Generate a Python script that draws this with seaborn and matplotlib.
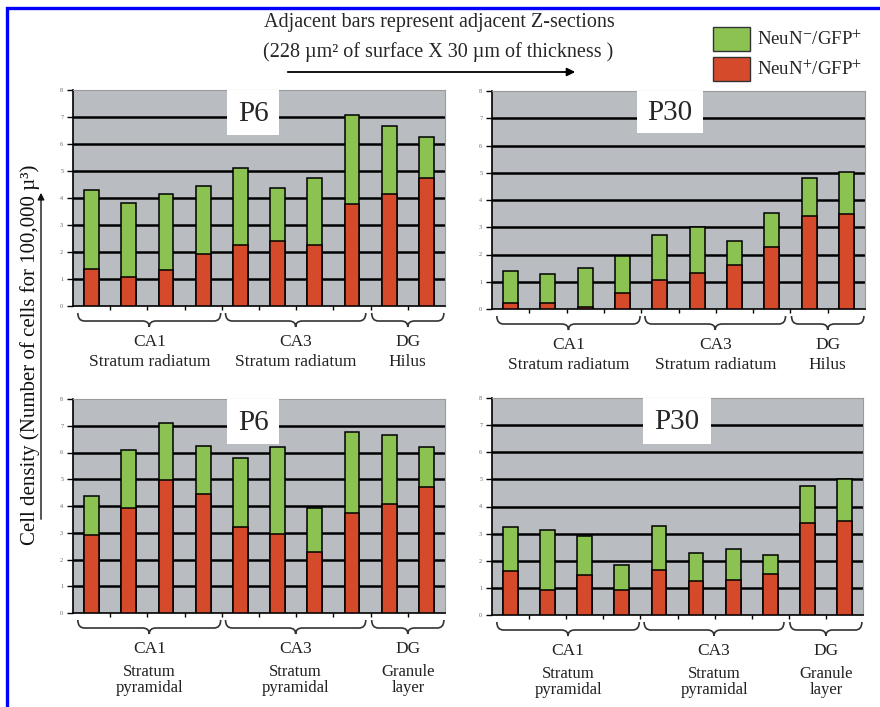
import matplotlib
matplotlib.use("Agg")
import matplotlib.pyplot as plt
import matplotlib.transforms as mtransforms
from matplotlib.patches import Rectangle, PathPatch, FancyArrowPatch
from matplotlib.path import Path
import pandas as pd
import seaborn as sns

# ---- data: cell density per Z-section (cells / 100,000 µ³) ----
sections = list(range(1, 11))
regions = ["CA1", "CA3", "DG"]
layers_radiatum = ["Stratum radiatum", "Stratum radiatum", "Hilus"]
layers_pyramidal = ["Stratum\npyramidal", "Stratum\npyramidal", "Granule\nlayer"]

# total height of each stacked bar (NeuN- + NeuN+) and its NeuN+ part
p6_rad_total = [4.28, 3.82, 4.13, 4.46, 5.12, 4.36, 4.75, 7.06, 6.68, 6.25]
p6_rad_pos = [1.37, 1.07, 1.32, 1.91, 2.26, 2.41, 2.26, 3.77, 4.13, 4.75]
p30_rad_total = [1.40, 1.28, 1.51, 1.95, 2.70, 3.01, 2.49, 3.51, 4.80, 5.02]
p30_rad_pos = [0.21, 0.23, 0.09, 0.57, 1.06, 1.33, 1.61, 2.28, 3.40, 3.50]
p6_pyr_total = [4.38, 6.08, 7.10, 6.23, 5.78, 6.19, 3.94, 6.77, 6.65, 6.20]
p6_pyr_pos = [2.91, 3.94, 4.98, 4.46, 3.21, 2.96, 2.28, 3.74, 4.08, 4.71]
p30_pyr_total = [3.23, 3.12, 2.93, 1.83, 3.29, 2.27, 2.42, 2.20, 4.77, 5.02]
p30_pyr_pos = [1.61, 0.93, 1.46, 0.93, 1.66, 1.24, 1.30, 1.52, 3.41, 3.48]

yticks = [0, 1, 2, 3, 4, 5, 6, 7, 8]

GREEN = "#8cc252"
RED = "#d64a2c"
PANEL_BG = "#b9bdc1"

sns.set_theme(style="ticks")
plt.rcParams["font.family"] = ["Liberation Serif", "DejaVu Serif"]
plt.rcParams["mathtext.fontset"] = "stix"

W, H = 880, 707
fig = plt.figure(figsize=(W / 100, H / 100), dpi=100)
fig.patch.set_facecolor("white")


def px_axes(left, top, right, bottom):
    return fig.add_axes([left / W, 1 - bottom / H, (right - left) / W, (bottom - top) / H])


panels = [
    (px_axes(73, 90, 445, 306), "P6", p6_rad_total, p6_rad_pos, layers_radiatum, (227, 279, 135)),
    (px_axes(492, 91, 865, 309), "P30", p30_rad_total, p30_rad_pos, layers_radiatum, (637, 703, 133)),
    (px_axes(73, 399, 445, 613), "P6", p6_pyr_total, p6_pyr_pos, layers_pyramidal, (227, 279, 444)),
    (px_axes(492, 398, 863, 615), "P30", p30_pyr_total, p30_pyr_pos, layers_pyramidal, (643, 711, 444)),
]

brace_spans = [(-0.37, 3.47), (3.6, 7.37), (7.53, 9.47)]


def draw_brace(ax, x0, x1, h_px):
    trans = mtransforms.blended_transform_factory(ax.transData, ax.transAxes)
    ya, yb, yc = -7 / h_px, -15 / h_px, -21 / h_px
    r = 0.18
    xm = (x0 + x1) / 2
    verts = [(x0, ya), (x0, yb), (x0 + r, yb), (xm - r, yb), (xm, yb), (xm, yc),
             (xm, yb), (xm + r, yb), (x1 - r, yb), (x1, yb), (x1, ya)]
    codes = [Path.MOVETO, Path.CURVE3, Path.CURVE3, Path.LINETO, Path.CURVE3, Path.CURVE3,
             Path.CURVE3, Path.CURVE3, Path.LINETO, Path.CURVE3, Path.CURVE3]
    ax.add_patch(PathPatch(Path(verts, codes), transform=trans, facecolor="none",
                           edgecolor="#333333", lw=1.2, clip_on=False))


for ax, title, total, pos, layers, box in panels:
    df = pd.DataFrame({"section": sections, "total": total, "pos": pos})
    ax.set_facecolor(PANEL_BG)
    sns.barplot(data=df, x="section", y="total", color=GREEN, saturation=1, width=0.4,
                edgecolor="black", linewidth=1.1, ax=ax, zorder=3)
    sns.barplot(data=df, x="section", y="pos", color=RED, saturation=1, width=0.4,
                edgecolor="black", linewidth=1.1, ax=ax, zorder=4)
    ax.set_xlim(-0.5, 9.5)
    ax.set_ylim(0, 8)
    ax.set_xlabel("")
    ax.set_ylabel("")

    # thick black gridlines at every integer level
    ax.set_yticks(yticks)
    ax.set_yticklabels([str(t) for t in yticks])
    ax.yaxis.grid(True, color="black", lw=1.8, zorder=1)
    ax.set_axisbelow(True)
    gl = ax.get_ygridlines()
    gl[0].set_visible(False)
    gl[-1].set_visible(False)
    ax.tick_params(axis="y", labelsize=4.5, labelcolor="#666666", length=4, width=1,
                   color="black", pad=3)

    # small ticks between neighbouring sections
    ax.set_xticks([i + 0.5 for i in range(9)])
    ax.set_xticklabels([])
    ax.tick_params(axis="x", length=3, width=1, color="black")

    for s in ("left", "bottom"):
        ax.spines[s].set_color("black")
        ax.spines[s].set_linewidth(1.2)
    for s in ("top", "right"):
        ax.spines[s].set_color("#9a9a9a")
        ax.spines[s].set_linewidth(0.8)

    # age label in a white box at the top of the panel
    pos_ax = ax.get_position()
    ax_left, ax_w = pos_ax.x0 * W, pos_ax.width * W
    ax_top, ax_h = (1 - pos_ax.y1) * H, pos_ax.height * H
    bx0, bx1, bby = box
    fx0 = (bx0 - ax_left) / ax_w
    fx1 = (bx1 - ax_left) / ax_w
    fy0 = 1 - (bby - ax_top) / ax_h
    ax.add_patch(Rectangle((fx0, fy0), fx1 - fx0, 1 - fy0, transform=ax.transAxes,
                           facecolor="white", edgecolor="none", zorder=5))
    ax.text((fx0 + fx1) / 2, (fy0 + 1) / 2 - 0.005, title, transform=ax.transAxes,
            ha="center", va="center", fontsize=21, zorder=6)

    # region braces and labels under the x axis
    for (x0, x1), reg, lay in zip(brace_spans, regions, layers):
        draw_brace(ax, x0, x1, ax_h)
        xm = (x0 + x1) / 2
        blend = mtransforms.blended_transform_factory(ax.transData, ax.transAxes)
        t1 = mtransforms.offset_copy(blend, fig=fig, y=-36, units="dots")
        ax.text(xm, 0, reg, transform=t1, ha="center", va="center", fontsize=12.5, color="#222222")
        if "\n" in lay:
            t2 = mtransforms.offset_copy(blend, fig=fig, y=-67, units="dots")
            ax.text(xm, 0, lay, transform=t2, ha="center", va="center", fontsize=12,
                    linespacing=1.0, color="#222222")
        else:
            t2 = mtransforms.offset_copy(blend, fig=fig, y=-56, units="dots")
            ax.text(xm, 0, lay, transform=t2, ha="center", va="center", fontsize=12.5,
                    color="#222222")

# shared y axis title with an upward arrow running along its baseline
fig.text(30 / W, 1 - 355 / H, "Cell density (Number of cells for 100,000 µ³)", rotation=90,
         ha="center", va="center", fontsize=15, color="#111111")
fig.add_artist(FancyArrowPatch((41 / W, 1 - 522 / H), (41 / W, 1 - 190 / H),
                               transform=fig.transFigure, arrowstyle="-|>",
                               mutation_scale=10, lw=1.0, color="#111111"))

# header explaining the section order
fig.text(439 / W, 1 - 22 / H, "Adjacent bars represent adjacent Z-sections", ha="center",
         va="center", fontsize=14.5)
fig.text(438 / W, 1 - 52 / H, "(228 µm² of surface X 30 µm of thickness )", ha="center",
         va="center", fontsize=14.5)
fig.add_artist(FancyArrowPatch(
    (285 / W, 1 - 72 / H), (578 / W, 1 - 72 / H), transform=fig.transFigure,
    arrowstyle="-|>", mutation_scale=12, lw=1.3, color="black"))

# legend
for (y0, y1), col, lab in [((27, 51), GREEN, "NeuN$^{-}$/GFP$^{+}$"),
                           ((57, 81), RED, "NeuN$^{+}$/GFP$^{+}$")]:
    fig.add_artist(Rectangle((713 / W, 1 - y1 / H), 37 / W, (y1 - y0) / H,
                             transform=fig.transFigure, facecolor=col, edgecolor="#333333",
                             lw=1.0))
    fig.text(757 / W, 1 - (y0 + y1) / 2 / H, lab, ha="left", va="center", fontsize=13.5)

# blue frame
fig.add_artist(plt.Line2D([7 / W, 7 / W, 1.0], [0, 1 - 8 / H, 1 - 8 / H],
                          transform=fig.transFigure, color="#0000ff", lw=2.4,
                          solid_joinstyle="miter"))

fig.savefig("out.png", dpi=100)
